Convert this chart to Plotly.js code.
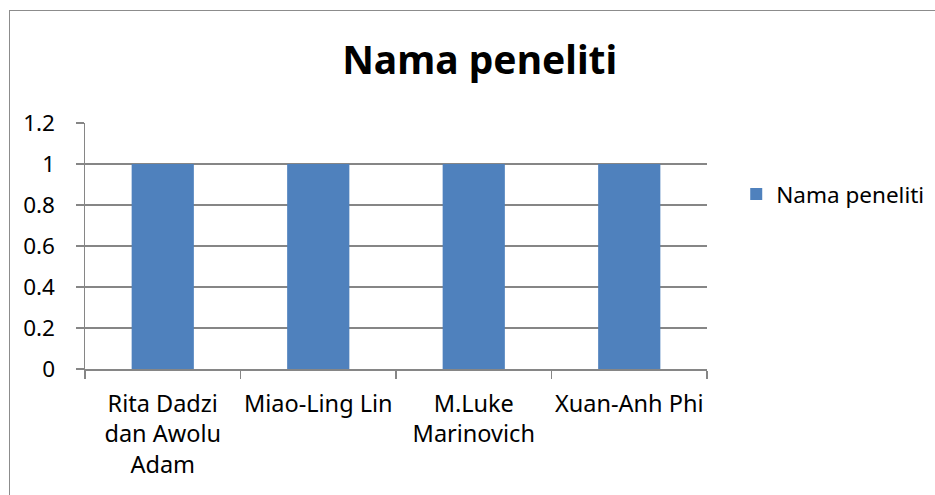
<!DOCTYPE html>
<html>
<head>
<meta charset="utf-8">
<script src="https://cdn.plot.ly/plotly-3.0.1.min.js"></script>
<style>
  html, body { margin: 0; padding: 0; background: #fff; }
  #wrap { position: relative; width: 935px; height: 495px; overflow: hidden; }
  #chart { position: absolute; left: 0; top: 0; width: 935px; height: 495px; }
  #frame { position: absolute; left: 9px; top: 10px; width: 940px; height: 520px;
           border: 1px solid #8c8c8c; pointer-events: none; box-sizing: border-box; }
</style>
</head>
<body>
<div id="wrap">
  <div id="chart"></div>
  <div id="frame"></div>
</div>
<script>
const categories = [
  "Rita Dadzi<br>dan Awolu<br>Adam",
  "Miao-Ling Lin",
  "M.Luke<br>Marinovich",
  "Xuan-Anh Phi"
];
const values = [1, 1, 1, 1];
const seriesName = "Nama peneliti";
const chartTitle = "Nama peneliti";
const yTickVals = [0, 0.2, 0.4, 0.6, 0.8, 1, 1.2];
const yTickText = ["0", "0.2", "0.4", "0.6", "0.8", "1", "1.2"];

const FONT = "Noto Sans, Open Sans, sans-serif";
const LINE = "#868686";

const data = [{
  type: "bar",
  x: categories,
  y: values,
  name: seriesName,
  marker: { color: "#4F81BD" },
  showlegend: true,
  hoverinfo: "none"
}];

const layout = {
  width: 935,
  height: 495,
  margin: { l: 85, r: 228, t: 123, b: 126, pad: 0, autoexpand: false },
  paper_bgcolor: "rgba(0,0,0,0)",
  plot_bgcolor: "rgba(0,0,0,0)",
  font: { family: FONT, size: 23, color: "#000" },
  title: {
    text: "<b>" + chartTitle + "</b>",
    font: { family: FONT, size: 39, color: "#000" },
    x: 0.513, xanchor: "center", xref: "container",
    y: 0.879, yanchor: "middle", yref: "container"
  },
  bargap: 0.6,
  showlegend: true,
  legend: {
    x: 1.047, xanchor: "left",
    y: 0.71, yanchor: "middle",
    font: { family: FONT, size: 22.5, color: "#000" },
    bgcolor: "rgba(0,0,0,0)",
    itemwidth: 30
  },
  xaxis: {
    type: "category",
    showgrid: false,
    showline: true,
    linecolor: LINE,
    linewidth: 1.5,
    ticks: "outside",
    tickson: "boundaries",
    ticklen: 8,
    tickwidth: 1.5,
    tickcolor: LINE,
    tickangle: 0,
    tickfont: { family: FONT, size: 23.5, color: "#000" },
    ticklabelstandoff: 13,
    fixedrange: true
  },
  yaxis: {
    range: [0, 1.2],
    tickvals: yTickVals,
    ticktext: yTickText,
    showgrid: true,
    gridcolor: LINE,
    gridwidth: 1.5,
    showline: true,
    linecolor: LINE,
    linewidth: 1.5,
    ticks: "outside",
    ticklen: 8,
    tickwidth: 1.5,
    tickcolor: LINE,
    tickfont: { family: FONT, size: 22.5, color: "#000" },
    ticklabelstandoff: 16,
    zeroline: false,
    fixedrange: true
  }
};

Plotly.newPlot("chart", data, layout, { displayModeBar: false, staticPlot: true });
</script>
</body>
</html>
